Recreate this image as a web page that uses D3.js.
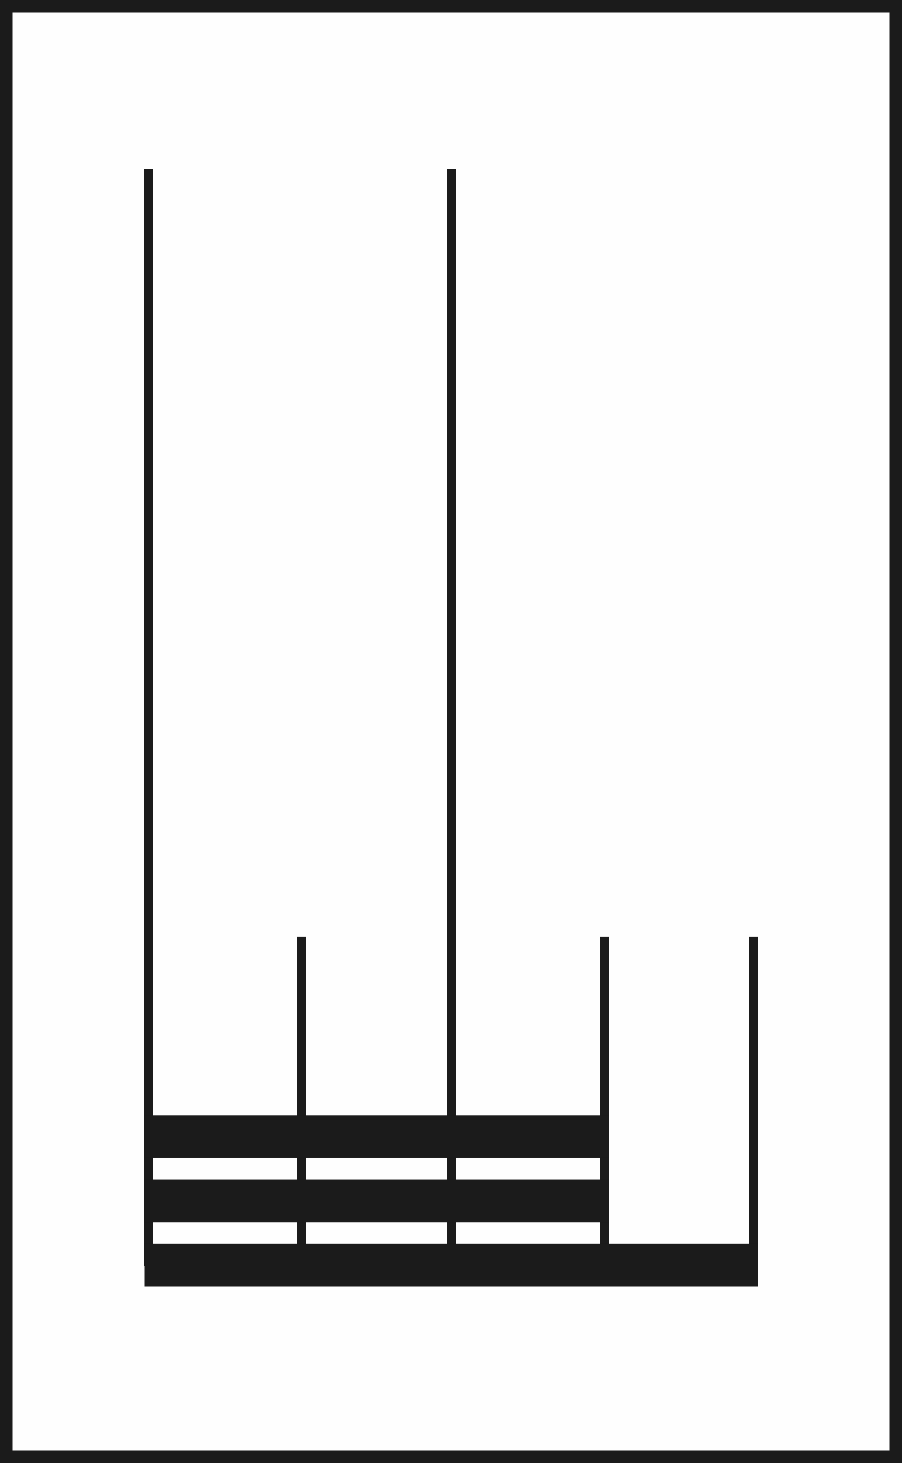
<!DOCTYPE html>
<html>
<head>
<meta charset="utf-8">
<script src="https://cdn.jsdelivr.net/npm/d3@7"></script>
<style>
  html, body { margin: 0; padding: 0; background: #fff; }
  svg { display: block; }
</style>
</head>
<body>
<script>
// ---- data ----
const categories = ["A", "B", "C"];
const barValues = [3, 3, 4];
const tickValues = [0, 1, 2, 3, 4];
const stemValues = [10, 3, 10, 3, 3];

// ---- layout ----
const W = 902, H = 1463;
const ink = "#1b1b1b";
const lineW = 9;

const svg = d3.select("body").append("svg")
  .attr("width", W).attr("height", H);

svg.append("rect")
  .attr("x", 0).attr("y", 0).attr("width", W).attr("height", H)
  .attr("fill", "#fefefe");

// frame
svg.append("rect")
  .attr("x", 6.25).attr("y", 6.25)
  .attr("width", W - 12.5).attr("height", H - 12.5)
  .attr("fill", "none").attr("stroke", ink).attr("stroke-width", 12.5);

const x = d3.scaleLinear().domain([0, 1, 2, 3, 4])
  .range([148.5, 301.5, 451.5, 604.5, 753.5]);
const yStem = d3.scaleLinear().domain([0, 10]).range([1266, 169]);
const yBand = d3.scaleBand().domain(categories).range([1115.3, 1286.5])
  .paddingInner(0.336).paddingOuter(0);

// vertical stems (gridlines)
svg.append("g").selectAll("rect")
  .data(tickValues.map((t, i) => ({ t, v: stemValues[i] })))
  .join("rect")
  .attr("x", d => x(d.t) - lineW / 2)
  .attr("width", lineW)
  .attr("y", d => yStem(d.v))
  .attr("height", d => yStem(0) - yStem(d.v))
  .attr("fill", ink);

// horizontal bars
svg.append("g").selectAll("rect")
  .data(categories.map((c, i) => ({ c, v: barValues[i] })))
  .join("rect")
  .attr("x", d => x(0) - lineW / 2 + 0.5)
  .attr("width", d => x(d.v) - x(0) + lineW - 0.5)
  .attr("y", d => yBand(d.c))
  .attr("height", yBand.bandwidth())
  .attr("fill", ink);
</script>
</body>
</html>
